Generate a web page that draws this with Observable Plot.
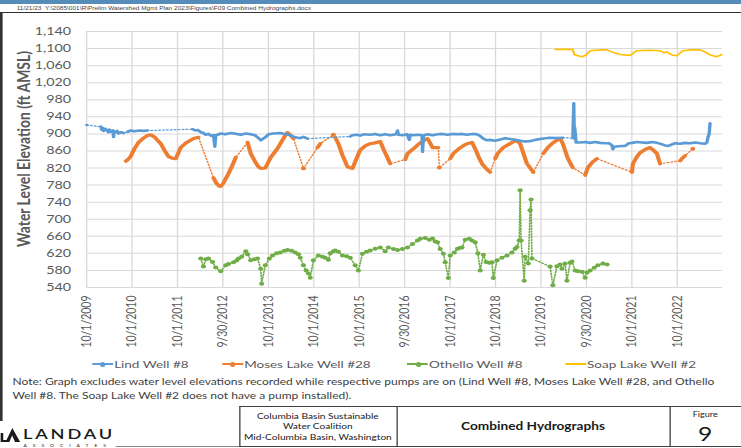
<!DOCTYPE html>
<html>
<head>
<meta charset="utf-8">
<script src="https://cdn.jsdelivr.net/npm/d3@7"></script>
<script src="https://cdn.jsdelivr.net/npm/@observablehq/plot@0.6"></script>
<style>
  html, body { margin: 0; padding: 0; background: #fff; overflow: hidden; }
  body { width: 741px; height: 448px; position: relative; }
  #page { position: absolute; left: 0; top: 0; width: 570px; height: 448px;
          transform: scaleX(1.3); transform-origin: 0 0; font-family: Lato, "Open Sans", sans-serif; }
  .abs { position: absolute; white-space: nowrap; }
  #chart { position: absolute; left: 0; top: 0; }
  .leg { position: absolute; top: 357px; height: 14px; line-height: 14px; font-size: 10.4px; color: #595959; display: flex; align-items: center; }
  .leg .sw { position: relative; width: 16px; height: 2px; margin-right: 1px; }
  .leg .sw i { position: absolute; left: 6.5px; top: -1.5px; width: 4px; height: 5px; border-radius: 50%; }
  .box { position: absolute; top: 406px; height: 41px; border-top: 1.4px solid #404040; border-bottom: 1.4px solid #404040; box-sizing: border-box; }
</style>
</head>
<body>
<div id="page">
  <div id="chart"></div>
  <!-- header -->
  <div class="abs" style="left:0;top:0;width:570px;height:3.5px;background:#558cb9;"></div>
  <div class="abs" style="left:12.8px;top:4.5px;font-family:'Liberation Sans',Arial,sans-serif;font-size:5px;line-height:6px;color:#444;">11/21/23&nbsp; Y:\2085\001\R\Prelim Watershed Mgmt Plan 2023\Figures\F09 Combined Hydrographs.docx</div>
  <div class="abs" style="left:0;top:11.5px;width:570px;height:1.5px;background:#333;"></div>
  <div class="abs" style="left:0;top:11.5px;width:1.5px;height:409px;background:#333;"></div>
  <!-- legend -->
  <div id="legend"></div>
  <!-- note -->
  <div id="note" class="abs" style="left:9.6px;top:375px;font-size:9.25px;line-height:13.5px;color:#404040;"></div>
  <!-- logo -->
  <svg class="abs" style="left:0;top:427px;" width="16" height="16" viewBox="0 0 16 16">
    <path d="M0.5,15 L0.5,6 L2.5,6 L2.5,13 L5,13 L9.5,1 L15.5,15 L11.6,15 L9.3,8.6 L7.2,15 Z" fill="#1a1a1a"/>
  </svg>
  <div class="abs" style="left:17.7px;top:426px;font-size:14px;line-height:15px;font-weight:600;letter-spacing:2.2px;color:#1a1a1a;">LANDAU</div>
  <div class="abs" style="left:18px;top:442.5px;font-size:3.8px;line-height:5px;letter-spacing:4.6px;color:#1a1a1a;">ASSOCIATES</div>
  <div class="abs" style="left:88.5px;top:446.3px;width:95.5px;height:1px;background:#8a8a8a;"></div>
  <!-- title block -->
  <div class="box" style="left:183.8px;width:386.2px;"></div>
  <div class="abs" style="left:183.8px;top:406px;width:1.2px;height:41px;background:#404040;"></div>
  <div class="abs" style="left:304.6px;top:406px;width:1.2px;height:41px;background:#404040;"></div>
  <div class="abs" style="left:514.6px;top:406px;width:1.2px;height:41px;background:#404040;"></div>
  <div id="tb1" class="abs" style="left:184px;width:121px;top:410.5px;font-size:7.8px;line-height:10.5px;color:#1a1a1a;text-align:center;"></div>
  <div id="tb2" class="abs" style="left:305px;width:210px;top:419px;font-size:10.5px;line-height:14px;font-weight:700;color:#1a1a1a;text-align:center;"></div>
  <div id="tb3" class="abs" style="left:515px;width:55px;top:409px;font-size:7px;line-height:10px;color:#1a1a1a;text-align:center;"></div>
  <div id="tb4" class="abs" style="left:515px;width:55px;top:423px;font-size:19px;line-height:22px;color:#1a1a1a;text-align:center;"></div>
</div>
<script>
// ---------- data ----------
const xTickLabels = ["10/1/2009","10/1/2010","10/1/2011","9/30/2012","10/1/2013","10/1/2014","10/1/2015",
  "9/30/2016","10/1/2017","10/1/2018","10/1/2019","9/30/2020","10/1/2021","10/1/2022"];
const xDomain = ["10/1/2009", "10/1/2023"];
const yTicks = [540,580,620,660,700,740,780,820,860,900,940,980,1020,1060,1100,1140];
const yTitle = "Water Level Elevation (ft AMSL)";
const seriesNames = ["Lind Well #8","Moses Lake Well #28","Othello Well #8","Soap Lake Well #2"];
const seriesColors = ["#5B9BD5","#ED7D31","#70AD47","#FFC000"];
const noteLines = [
  "Note: Graph excludes water level elevations recorded while respective pumps are on (Lind Well #8, Moses Lake Well #28, and Othello",
  "Well #8. The Soap Lake Well #2 does not have a pump installed)."
];
const titleLeft = ["Columbia Basin Sustainable","Water Coalition","Mid-Columbia Basin, Washington"];
const titleMain = "Combined Hydrographs";
const figureLabel = "Figure";
const figureNumber = "9";

// [decimal year, elevation ft, segment id]
const lind = [
  [2009.75,921,0],
  [2010.06,917,1],[2010.08,910,1],[2010.10,914,1],[2010.12,907,1],[2010.15,912,1],[2010.19,909,1],[2010.23,904,1],
  [2010.25,910,1],[2010.28,905,1],[2010.33,908,1],[2010.34,893,1],[2010.35,906,1],[2010.37,903,1],[2010.42,907,1],
  [2010.45,901,1],[2010.50,904,1],[2010.56,902,1],
  [2010.65,905,2],[2010.72,908,2],[2010.80,906,2],[2010.90,908,2],[2011.00,907,2],[2011.09,908,2],
  [2012.08,911,3],[2012.14,908,3],[2012.20,909,3],[2012.26,904,3],[2012.32,902,3],[2012.37,898,3],[2012.43,900,3],
  [2012.48,896,3],[2012.54,897,3],[2012.57,870,3],[2012.59,897,3],[2012.63,898,3],[2012.70,901,3],[2012.80,899,3],
  [2012.92,902,3],[2013.05,900,3],[2013.14,898,3],[2013.25,901,3],[2013.36,899,3],[2013.45,897,3],[2013.53,890,3],
  [2013.58,885,3],[2013.62,888,3],[2013.68,892,3],[2013.75,899,3],[2013.85,901,3],[2014.01,902,3],[2014.10,900,3],
  [2014.17,899,3],[2014.25,896,3],[2014.34,892,3],[2014.45,890,3],[2014.52,893,3],[2014.61,889,3],
  [2015.55,894,4],[2015.60,897,4],[2015.70,898,4],[2015.77,896,4],[2015.85,899,4],[2015.99,898,4],[2016.10,900,4],
  [2016.21,897,4],[2016.32,899,4],[2016.43,897,4],[2016.56,899,4],[2016.59,908,4],[2016.61,898,4],[2016.70,897,4],
  [2016.80,899,4],[2016.85,886,4],[2016.87,898,4],[2016.92,897,4],[2017.03,898,4],[2017.13,897,4],[2017.14,858,4],
  [2017.16,896,4],[2017.25,899,4],[2017.36,897,4],[2017.47,899,4],[2017.58,900,4],[2017.69,898,4],[2017.80,900,4],
  [2017.91,899,4],[2018.01,900,4],[2018.12,898,4],[2018.23,900,4],[2018.34,899,4],[2018.41,895,4],[2018.48,889,4],
  [2018.56,885,4],[2018.63,886,4],[2018.74,884,4],[2018.85,887,4],[2018.96,890,4],[2019.07,888,4],[2019.18,886,4],
  [2019.29,884,4],[2019.40,882,4],[2019.51,883,4],[2019.62,886,4],[2019.73,888,4],[2019.85,890,4],[2019.95,891,4],
  [2020.08,890,4],[2020.23,891,4],
  [2020.45,890,5],[2020.47,972,5],[2020.48,900,5],[2020.49,915,5],[2020.50,905,5],[2020.52,880,5],[2020.60,880,5],
  [2020.72,881,5],[2020.83,879,5],[2020.94,881,5],[2021.05,879,5],[2021.16,878,5],[2021.25,878,5],[2021.31,873,5],
  [2021.33,864,5],[2021.36,870,5],[2021.45,871,5],[2021.60,872,5],[2021.68,878,5],[2021.75,879,5],[2021.86,881,5],
  [2021.97,880,5],[2022.08,879,5],[2022.20,881,5],[2022.30,879,5],[2022.40,876,5],[2022.48,873,5],[2022.55,872,5],
  [2022.62,875,5],[2022.70,878,5],[2022.81,877,5],[2022.92,879,5],[2023.03,878,5],[2023.14,880,5],[2023.25,878,5],
  [2023.36,877,5],[2023.40,880,5],[2023.42,890,5],[2023.45,900,5],[2023.47,925,5]
];

const moses = [
  [2010.61,836,0],[2010.66,840,0],[2010.72,848,0],[2010.80,865,0],[2010.89,880,0],[2011.00,890,0],[2011.08,896,0],
  [2011.16,898,0],[2011.25,892,0],[2011.38,877,0],[2011.47,860,0],[2011.55,847,0],[2011.63,843,0],[2011.71,842,0],
  [2011.78,858,0],[2011.82,868,0],[2011.95,880,0],[2012.10,889,0],[2012.21,892,0],
  [2012.54,797,1],[2012.60,785,1],[2012.66,778,1],[2012.70,777,1],[2012.76,785,1],[2012.87,807,1],[2012.95,825,1],[2013.03,845,1],
  [2013.29,880,2],[2013.33,865,2],[2013.36,854,2],[2013.45,836,2],[2013.52,824,2],[2013.58,819,2],[2013.68,820,2],
  [2013.80,845,2],[2013.95,866,2],[2014.05,884,2],[2014.12,896,2],[2014.17,903,2],[2014.24,896,2],[2014.30,889,2],
  [2014.52,819,3],
  [2014.83,868,4],[2014.89,877,4],
  [2015.18,898,5],
  [2015.22,892,6],[2015.29,877,6],[2015.38,850,6],[2015.49,823,6],[2015.60,819,6],[2015.68,840,6],[2015.77,862,6],
  [2015.88,872,6],[2015.99,877,6],[2016.10,879,6],[2016.21,882,6],[2016.30,860,6],[2016.38,842,6],[2016.43,830,6],
  [2016.76,840,7],[2016.81,854,7],[2016.95,866,7],[2017.05,876,7],[2017.16,884,7],[2017.25,889,7],[2017.30,880,7],
  [2017.36,868,7],[2017.49,868,7],
  [2017.51,821,8],
  [2017.75,842,9],[2017.82,854,9],[2017.95,866,9],[2018.05,873,9],[2018.12,877,9],[2018.23,880,9],[2018.30,865,9],
  [2018.38,845,9],[2018.45,830,9],[2018.55,818,9],[2018.63,810,9],
  [2018.74,842,10],[2018.80,855,10],[2018.92,868,10],[2019.05,876,10],[2019.15,882,10],[2019.22,884,10],[2019.29,877,10],
  [2019.36,855,10],[2019.44,830,10],[2019.50,822,10],[2019.58,810,10],
  [2019.80,854,11],[2019.90,868,11],[2020.00,878,11],[2020.10,885,11],[2020.17,889,11],[2020.23,877,11],[2020.33,845,11],
  [2020.40,830,11],[2020.45,821,11],
  [2020.72,803,12],[2020.75,812,12],[2020.78,821,12],[2020.88,834,12],[2020.98,842,12],
  [2021.75,810,13],[2021.77,830,13],[2021.85,845,13],[2021.93,856,13],[2022.05,864,13],[2022.15,868,13],[2022.22,862,13],
  [2022.30,854,13],[2022.37,830,13],
  [2022.81,837,14],[2022.86,843,14],[2022.92,849,14],
  [2023.09,865,15]
];

const othello = [
  [2012.26,608],[2012.32,589],[2012.37,606],[2012.43,608],[2012.52,600],[2012.59,587],[2012.70,578],[2012.81,592],
  [2012.87,595],[2012.98,599],[2013.05,603],[2013.09,608],[2013.16,612],[2013.25,625],[2013.29,618],[2013.36,604],
  [2013.44,606],[2013.51,608],[2013.58,584],[2013.60,549],[2013.68,592],[2013.77,608],[2013.84,615],[2013.93,620],
  [2014.01,622],[2014.10,626],[2014.17,628],[2014.26,626],[2014.34,622],[2014.41,618],[2014.45,610],[2014.52,592],
  [2014.58,580],[2014.63,573],[2014.67,563],[2014.74,604],[2014.85,615],[2014.94,612],[2015.00,610],[2015.07,605],
  [2015.11,620],[2015.18,625],[2015.22,627],[2015.29,624],[2015.38,615],[2015.47,613],[2015.55,610],[2015.66,592],
  [2015.73,580],[2015.82,619],[2015.91,624],[2015.99,627],[2016.10,631],[2016.21,634],[2016.32,625],[2016.39,634],
  [2016.50,630],[2016.59,628],[2016.70,630],[2016.81,634],[2016.92,642],[2017.03,650],[2017.09,654],[2017.20,656],
  [2017.29,652],[2017.36,655],[2017.42,648],[2017.47,646],[2017.53,630],[2017.60,619],[2017.64,599],[2017.71,562],
  [2017.75,615],[2017.84,622],[2017.91,631],[2017.97,633],[2018.01,634],[2018.08,652],[2018.17,654],[2018.23,650],
  [2018.30,646],[2018.36,620],[2018.41,580],[2018.48,617],[2018.54,600],[2018.61,598],[2018.67,599],[2018.70,562],
  [2018.78,604],[2018.89,610],[2019.00,615],[2019.11,622],[2019.18,631],[2019.22,635],[2019.27,650],[2019.29,768],
  [2019.31,650],[2019.38,556],[2019.40,612],[2019.47,596],[2019.51,721],[2019.53,746],[2019.55,608],[2019.95,589],
  [2020.01,545],[2020.10,590],[2020.17,594],[2020.21,584],[2020.28,596],[2020.32,556],[2020.39,598],[2020.43,601],
  [2020.50,580],[2020.56,578],[2020.65,577],[2020.72,563],[2020.76,575],[2020.83,580],[2020.92,586],[2021.00,592],
  [2021.11,596],[2021.20,594]
];

const soap = [
  [2020.06,1098],[2020.45,1098],[2020.48,1086],[2020.54,1084],[2020.65,1081],[2020.74,1085],[2020.83,1095],
  [2021.05,1097],[2021.20,1097],[2021.36,1090],[2021.49,1086],[2021.71,1084],[2021.86,1095],[2022.15,1096],
  [2022.37,1095],[2022.46,1090],[2022.52,1092],[2022.63,1085],[2022.74,1083],[2022.87,1095],[2023.07,1097],
  [2023.25,1097],[2023.36,1092],[2023.47,1085],[2023.62,1081],[2023.73,1086]
];

// ---------- helpers ----------
const parseTick = d3.utcParse("%m/%d/%Y");
const fmtTick = d3.utcFormat("%-m/%-d/%Y");
function toDate(t) {
  const y = Math.floor(t);
  const a = Date.UTC(y, 0, 1), b = Date.UTC(y + 1, 0, 1);
  return new Date(a + (t - y) * (b - a));
}
const rows = (arr) => arr.map(([t, v, s]) => ({date: toDate(t), value: v, seg: s ?? 0}));
const lindRows = rows(lind), mosesRows = rows(moses), othelloRows = rows(othello), soapRows = rows(soap);
const segCount = d3.rollup(mosesRows, v => v.length, d => d.seg);
const mosesSingles = mosesRows.filter(d => segCount.get(d.seg) === 1);
const xTicks = xTickLabels.map(parseTick);
const [cBlue, cOrange, cGreen, cYellow] = seriesColors;

const chart = Plot.plot({
  width: 570,
  height: 350,
  marginTop: 31,
  marginBottom: 63,
  marginLeft: 66.15,
  marginRight: 14.6,
  style: {fontFamily: "Lato, 'Open Sans', sans-serif", background: "transparent", overflow: "visible"},
  x: {type: "utc", domain: xDomain.map(parseTick)},
  y: {domain: [yTicks[0], yTicks[yTicks.length - 1]]},
  marks: [
    Plot.gridY(yTicks, {stroke: "#d9d9d9", strokeOpacity: 1, strokeWidth: 1}),
    Plot.gridX(xTicks, {stroke: "#d9d9d9", strokeOpacity: 1, strokeWidth: 1}),
    Plot.axisY(yTicks, {tickSize: 0, tickPadding: 12, tickFormat: d3.format(","), fontSize: 11, fill: "#595959", label: null}),
    Plot.axisX(xTicks, {tickSize: 0, tickPadding: 8, tickRotate: -90, tickFormat: fmtTick, fontSize: 10.5, fill: "#595959", label: null}),
    Plot.text([yTitle], {text: d => d, frameAnchor: "left", textAnchor: "middle", lineAnchor: "middle",
      rotate: -90, dx: -47.5, dy: -10.5, fontSize: 13, fontWeight: "bold", fill: "#595959", ariaLabel: "ytitle"}),
    // Othello
    Plot.line(othelloRows, {x: "date", y: "value", stroke: cGreen, strokeWidth: 1.3, strokeDasharray: "1.2,1.6"}),
    Plot.dot(othelloRows, {x: "date", y: "value", r: 2, fill: cGreen}),
    // Moses Lake
    Plot.line(mosesRows, {x: "date", y: "value", stroke: cOrange, strokeWidth: 1.2, strokeDasharray: "1.2,1.8"}),
    Plot.line(mosesRows, {x: "date", y: "value", z: "seg", stroke: cOrange, strokeWidth: 3.2, strokeLinejoin: "round", strokeLinecap: "round"}),
    Plot.dot(mosesSingles, {x: "date", y: "value", r: 1.9, fill: cOrange}),
    // Lind
    Plot.line(lindRows, {x: "date", y: "value", stroke: cBlue, strokeWidth: 1.2, strokeDasharray: "1.2,1.8"}),
    Plot.line(lindRows, {x: "date", y: "value", z: "seg", stroke: cBlue, strokeWidth: 2.6, strokeLinejoin: "round"}),
    // Soap Lake
    Plot.line(soapRows, {x: "date", y: "value", stroke: cYellow, strokeWidth: 1.6, strokeLinejoin: "round"})
  ]
});
document.getElementById("chart").appendChild(chart);
// fit the rotated axis title to the reference length
d3.select(chart).selectAll("text").filter(function () { return this.textContent === yTitle; })
  .attr("textLength", 196).attr("lengthAdjust", "spacingAndGlyphs");

// legend
const legLefts = [70.8, 170.8, 313, 434.6];
const legend = document.getElementById("legend");
seriesNames.forEach((name, i) => {
  const item = document.createElement("div");
  item.className = "leg";
  item.style.left = legLefts[i] + "px";
  const sw = document.createElement("span");
  sw.className = "sw";
  sw.style.background = seriesColors[i];
  sw.style.height = "1.6px";
  if (i < 3) {
    const dot = document.createElement("i");
    dot.style.background = seriesColors[i];
    sw.appendChild(dot);
  }
  const tx = document.createElement("span");
  tx.textContent = name;
  item.appendChild(sw);
  item.appendChild(tx);
  legend.appendChild(item);
});

document.getElementById("note").innerHTML = noteLines.map(s => s.replace(/&/g, "&amp;")).join("<br>");
document.getElementById("tb1").innerHTML = titleLeft.join("<br>");
document.getElementById("tb2").textContent = titleMain;
document.getElementById("tb3").textContent = figureLabel;
document.getElementById("tb4").textContent = figureNumber;
</script>
</body>
</html>
